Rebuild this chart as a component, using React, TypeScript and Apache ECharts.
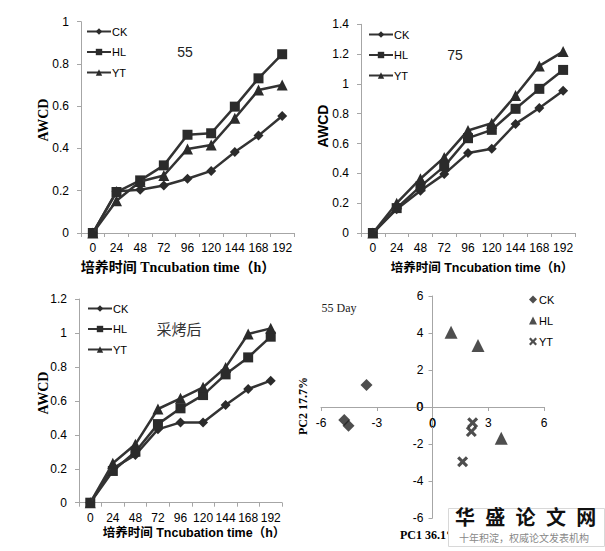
import React, { useEffect, useRef } from "react";
import * as echarts from "echarts";

const hours = ["0", "24", "48", "72", "96", "120", "144", "168", "192"];
const ck55 = [0, 0.197, 0.205, 0.225, 0.257, 0.294, 0.383, 0.461, 0.554];
const hl55 = [0, 0.194, 0.249, 0.32, 0.465, 0.472, 0.598, 0.732, 0.846];
const yt55 = [0, 0.153, 0.244, 0.272, 0.398, 0.416, 0.543, 0.677, 0.7];
const ck75 = [0, 0.16, 0.284, 0.395, 0.536, 0.565, 0.732, 0.839, 0.955];
const hl75 = [0, 0.167, 0.313, 0.447, 0.636, 0.692, 0.833, 0.967, 1.094];
const yt75 = [0, 0.2, 0.364, 0.507, 0.688, 0.737, 0.922, 1.121, 1.217];
const ckAfter = [0, 0.202, 0.281, 0.432, 0.473, 0.473, 0.575, 0.67, 0.719];
const hlAfter = [0, 0.187, 0.3, 0.463, 0.556, 0.634, 0.756, 0.856, 0.978];
const ytAfter = [0, 0.232, 0.344, 0.552, 0.615, 0.68, 0.797, 0.994, 1.027];
const pcaCK = [[-3.55, 1.19], [-4.75, -0.7], [-4.52, -1.01]];
const pcaHL = [[1.0, 4.04], [2.45, 3.33], [3.7, -1.69]];
const pcaYT = [[2.16, -0.85], [2.09, -1.33], [1.62, -2.96]];
const seriesNames = ["CK", "HL", "YT"];

const CROSS = "path://M2,0 L5,3 L8,0 L10,2 L7,5 L10,8 L8,10 L5,7 L2,10 L0,8 L3,5 L0,2 Z";
const AXIS_COLOR = "#a6a6a6";
const SANS = '"Liberation Sans", Arial, sans-serif';

export default function App() {
  const ref = useRef<HTMLDivElement>(null);
  useEffect(() => {
    if (!ref.current) return;
    const chart = echarts.init(ref.current, null, { renderer: "svg" });

    const grids = [
      { left: 81, top: 21.7, width: 213, height: 211.3 },
      { left: 361, top: 24.3, width: 214, height: 208.7 },
      { left: 79, top: 299, width: 203, height: 203.7 },
      { left: 321, top: 296, width: 223, height: 222 },
    ];
    const yMax = [1, 1.4, 1.2];
    const lineData = [
      [ck55, hl55, yt55],
      [ck75, hl75, yt75],
      [ckAfter, hlAfter, ytAfter],
    ];
    const lineSymbols = [
      ["diamond", 10],
      ["rect", 10],
      ["triangle", 11],
    ];

    const xAxes: any[] = [];
    const yAxes: any[] = [];
    const series: any[] = [];
    const legends: any[] = [];
    const legendPos = [
      { left: 86, top: 26 },
      { left: 368, top: 29 },
      { left: 87, top: 303 },
    ];

    for (let i = 0; i < 3; i++) {
      xAxes.push({
        type: "category",
        gridIndex: i,
        data: hours,
        boundaryGap: true,
        axisLine: { show: true, lineStyle: { color: AXIS_COLOR, width: 1 } },
        axisTick: { show: true, length: 4, alignWithLabel: false, interval: 0, lineStyle: { color: AXIS_COLOR } },
        axisLabel: { interval: 0, margin: 9, color: "#000", fontSize: 12, fontFamily: SANS },
        splitLine: { show: false },
      });
      yAxes.push({
        type: "value",
        gridIndex: i,
        min: 0,
        max: yMax[i],
        interval: 0.2,
        axisLine: { show: true, lineStyle: { color: AXIS_COLOR, width: 1 } },
        axisTick: { show: true, length: 4, lineStyle: { color: AXIS_COLOR } },
        axisLabel: { margin: 12, color: "#000", fontSize: 12, fontFamily: SANS },
        splitLine: { show: false },
      });
      const names: string[] = [];
      for (let s = 0; s < 3; s++) {
        const nm = seriesNames[s] + "_" + i;
        names.push(nm);
        series.push({
          type: "line",
          name: nm,
          xAxisIndex: i,
          yAxisIndex: i,
          data: lineData[i][s],
          symbol: lineSymbols[s][0],
          symbolSize: lineSymbols[s][1],
          showAllSymbol: true,
          lineStyle: { color: "#333", width: 2.5 },
          itemStyle: { color: "#2b2b2b" },
          z: 2 + s,
        });
      }
      legends.push({
        data: names,
        orient: "vertical",
        left: legendPos[i].left,
        top: legendPos[i].top,
        padding: 0,
        itemWidth: 24,
        itemHeight: 8,
        itemGap: 9.5,
        formatter: (n: string) => n.split("_")[0],
        textStyle: { fontSize: 11, color: "#000", fontFamily: SANS, padding: [0, 0, 0, -4] },
        selectedMode: false,
      });
    }

    // scatter: axes cross at zero (grid 321..544 x, 296..518 y; zero at x=432.5, y=407)
    xAxes.push({
      type: "value",
      gridIndex: 3,
      min: -6,
      max: 6,
      interval: 3,
      offset: -111,
      axisLine: { show: true, onZero: false, lineStyle: { color: AXIS_COLOR } },
      axisTick: { show: true, length: 4, lineStyle: { color: AXIS_COLOR } },
      axisLabel: { margin: 10, color: "#000", fontSize: 12, fontFamily: SANS },
      splitLine: { show: false },
    });
    yAxes.push({
      type: "value",
      gridIndex: 3,
      min: -6,
      max: 6,
      interval: 2,
      offset: -111.5,
      axisLine: { show: true, onZero: false, lineStyle: { color: AXIS_COLOR } },
      axisTick: { show: true, length: 4, lineStyle: { color: AXIS_COLOR } },
      axisLabel: { margin: 9, color: "#000", fontSize: 12, fontFamily: SANS },
      splitLine: { show: false },
    });
    const pca = [pcaCK, pcaHL, pcaYT];
    const pcaSymbols: any[] = [
      ["diamond", 12],
      ["triangle", 13],
      [CROSS, 11],
    ];
    const pcaNames: string[] = [];
    for (let s = 0; s < 3; s++) {
      const nm = seriesNames[s] + "_3";
      pcaNames.push(nm);
      series.push({
        type: "scatter",
        name: nm,
        xAxisIndex: 3,
        yAxisIndex: 3,
        data: pca[s],
        symbol: pcaSymbols[s][0],
        symbolSize: pcaSymbols[s][1],
        itemStyle: { color: "#222" },
      });
    }
    legends.push({
      data: pcaNames,
      orient: "vertical",
      left: 529,
      top: 294,
      padding: 0,
      itemWidth: 8,
      itemHeight: 8,
      itemGap: 10,
      formatter: (n: string) => n.split("_")[0],
      textStyle: { fontSize: 11, color: "#000", fontFamily: SANS, padding: [0, 0, 0, -3] },
      selectedMode: false,
    });

    const titleText = "培养时间 Tncubation time（h）";
    const graphic: any[] = [
      { type: "text", x: 178, y: 267, style: { text: titleText, align: "center", verticalAlign: "middle", font: 'bold 14px "Liberation Serif", "Noto Sans CJK SC", serif', fill: "#000" } },
      { type: "text", x: 482, y: 268, style: { text: titleText, align: "center", verticalAlign: "middle", font: 'bold 12.5px "Liberation Sans", "Noto Sans CJK SC", sans-serif', fill: "#000" } },
      { type: "text", x: 194, y: 533, style: { text: titleText, align: "center", verticalAlign: "middle", font: 'bold 12.5px "Liberation Sans", "Noto Sans CJK SC", sans-serif', fill: "#000" } },
      { type: "text", x: 43, y: 120, rotation: Math.PI / 2, style: { text: "AWCD", align: "center", verticalAlign: "middle", font: 'bold 14px "Liberation Serif", serif', fill: "#000" } },
      { type: "text", x: 323, y: 126, rotation: Math.PI / 2, style: { text: "AWCD", align: "center", verticalAlign: "middle", font: 'bold 14px "Liberation Sans", sans-serif', fill: "#000" } },
      { type: "text", x: 43, y: 393, rotation: Math.PI / 2, style: { text: "AWCD", align: "center", verticalAlign: "middle", font: 'bold 14px "Liberation Serif", serif', fill: "#000" } },
      { type: "text", x: 185, y: 52, style: { text: "55", align: "center", verticalAlign: "middle", font: '14px "Liberation Sans", sans-serif', fill: "#222" } },
      { type: "text", x: 455, y: 55, style: { text: "75", align: "center", verticalAlign: "middle", font: '14px "Liberation Sans", sans-serif', fill: "#222" } },
      { type: "text", x: 179, y: 328, style: { text: "采烤后", align: "center", verticalAlign: "middle", font: '15px "Noto Sans CJK SC", sans-serif', fill: "#333" } },
      { type: "text", x: 339, y: 308, style: { text: "55 Day", align: "center", verticalAlign: "middle", font: '12px "Liberation Serif", serif', fill: "#222" } },
      { type: "text", x: 303, y: 406, rotation: Math.PI / 2, style: { text: "PC2 17.7%", align: "center", verticalAlign: "middle", font: 'bold 12px "Liberation Serif", serif', fill: "#000" } },
      { type: "text", x: 429, y: 535, style: { text: "PC1 36.1%", align: "center", verticalAlign: "middle", font: 'bold 12px "Liberation Serif", serif', fill: "#000" } },
      // zero labels of the crossing PCA axes
      { type: "text", x: 432.5, y: 424, style: { text: "0", align: "center", verticalAlign: "middle", font: '12px "Liberation Sans", sans-serif', fill: "#000" } },
      { type: "text", x: 423, y: 407, style: { text: "0", align: "right", verticalAlign: "middle", font: '12px "Liberation Sans", sans-serif', fill: "#000" } },
      // watermark
      { type: "rect", shape: { x: 448.5, y: 508.5, width: 156, height: 38 }, style: { fill: "#fff", stroke: "#d8d8d8", lineWidth: 1 }, z: 100 },
      ...["华", "盛", "论", "文", "网"].map((c, k) => ({
        type: "text",
        x: 465 + k * 30.3,
        y: 516,
        z: 101,
        style: { text: c, align: "center", verticalAlign: "middle", font: 'bold 20px "Noto Sans CJK SC", sans-serif', fill: "#111" },
      })),
      { type: "text", x: 524, y: 537.5, z: 101, style: { text: "十年积淀，权威论文发表机构", align: "center", verticalAlign: "middle", font: '10px "Noto Sans CJK SC", sans-serif', fill: "#888" } },
    ];

    chart.setOption({
      animation: false,
      backgroundColor: "#fff",
      grid: grids,
      xAxis: xAxes,
      yAxis: yAxes,
      series,
      legend: legends,
      graphic,
    });
    return () => chart.dispose();
  }, []);
  return <div ref={ref} style={{ position: "absolute", left: 0, top: 0, width: 605, height: 551 }} />;
}
